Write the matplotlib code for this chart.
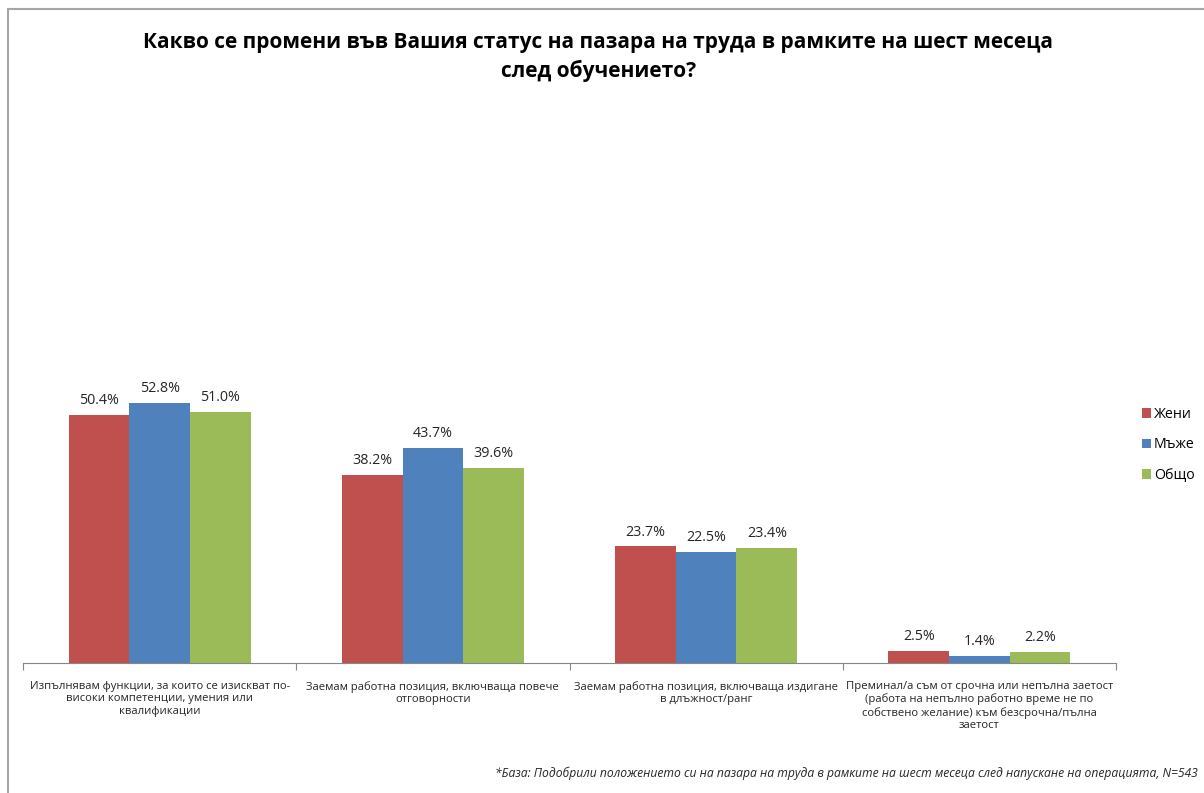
import numpy as np
import matplotlib.pyplot as plt
from matplotlib.patches import Rectangle

plt.rcParams['font.family'] = ['Open Sans', 'DejaVu Sans']

categories = [
    'Изпълнявам функции, за които се изискват по-\nвисоки компетенции, умения или\nквалификации',
    'Заемам работна позиция, включваща повече\nотговорности',
    'Заемам работна позиция, включваща издигане\nв длъжност/ранг',
    'Преминал/а съм от срочна или непълна заетост\n(работа на непълно работно време не по\nсобствено желание) към безсрочна/пълна\nзаетост',
]
series_names = ['Жени', 'Мъже', 'Общо']
women = [50.4, 38.2, 23.7, 2.5]
men = [52.8, 43.7, 22.5, 1.4]
total = [51.0, 39.6, 23.4, 2.2]
colors = ['#C0504D', '#4F81BD', '#9BBB59']

title = 'Какво се промени във Вашия статус на пазара на труда в рамките на шест месеца\nслед обучението?'
footnote = ('*База: Подобрили положението си на пазара на труда в рамките на шест месеца '
            'след напускане на операцията, N=543')

fig = plt.figure(figsize=(12.04, 7.93), dpi=100)

# grey frame around the whole chart
fig.patches.append(Rectangle((8 / 1204, -0.01), 1.02, 1 - 9 / 793 + 0.01,
                             transform=fig.transFigure, fill=False,
                             edgecolor='#A6A6A6', linewidth=1.5))

ax = fig.add_axes([23 / 1204, 130 / 793, 1093 / 1204, 300 / 793])

x = np.arange(len(categories))
width = 0.222
for i, (vals, name) in enumerate(zip([women, men, total], series_names)):
    pos = x + (i - 1) * width
    bars = ax.bar(pos, vals, width, color=colors[i], label=name, zorder=2)
    for b, v in zip(bars, vals):
        ax.text(b.get_x() + b.get_width() / 2, v + 1.4, f'{v:.1f}%',
                ha='center', va='bottom', fontsize=10.3, color='#262626')

ax.set_xlim(-0.5, len(categories) - 0.5)
ax.set_ylim(0, 61)
ax.set_yticks([])
for s in ['top', 'right', 'left']:
    ax.spines[s].set_visible(False)
ax.spines['bottom'].set_color('#868686')

# ticks sit between the categories
ax.set_xticks(np.arange(len(categories) + 1) - 0.5)
ax.set_xticklabels([])
ax.tick_params(axis='x', direction='out', length=5, color='#868686')
for xi, lab in zip(x, categories):
    ax.text(xi, -3.6, lab, ha='center', va='top', fontsize=8.15, color='#262626',
            linespacing=1.2)

fig.text(0.497, 1 - 57 / 793, title, ha='center', va='center', fontsize=15,
         fontweight='bold', linespacing=1.45)

leg = ax.legend(loc='center left', bbox_to_anchor=(1.012, 0.727), frameon=False,
                fontsize=10.2, handlelength=0.65, handleheight=0.65, handletextpad=0.2,
                labelspacing=1.1)

fig.text(1198 / 1204, 1 - 773 / 793, footnote, ha='right', va='center',
         fontsize=8.7, style='italic', color='#262626')

fig.savefig('out.png', dpi=100)
